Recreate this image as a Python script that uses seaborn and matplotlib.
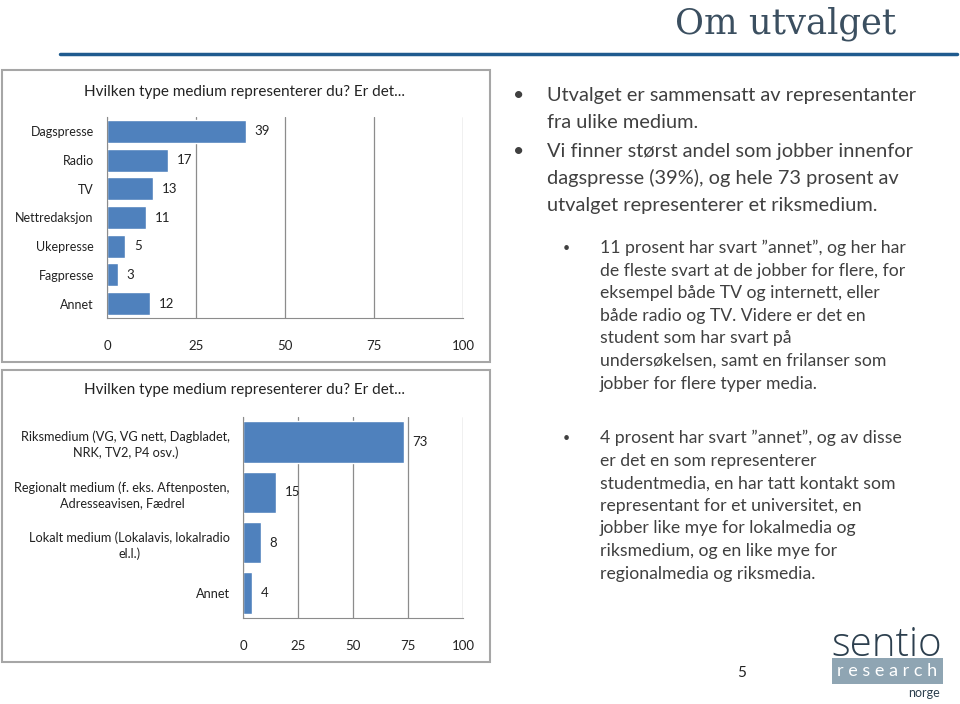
import matplotlib
matplotlib.use('Agg')
import matplotlib.pyplot as plt
from matplotlib.patches import Rectangle
import numpy as np
import seaborn as sns

# data for the two bar charts
medium_types = ['Dagspresse', 'Radio', 'TV', 'Nettredaksjon', 'Ukepresse', 'Fagpresse', 'Annet']
medium_values = [39, 17, 13, 11, 5, 3, 12]

reach_types = ['Riksmedium (VG, VG nett, Dagbladet,\nNRK, TV2, P4 osv.)',
               'Regionalt medium (f. eks. Aftenposten,\nAdresseavisen, Fædrel',
               'Lokalt medium (Lokalavis, lokalradio\nel.l.)',
               'Annet']
reach_values = [73, 15, 8, 4]

x_ticks = [0, 25, 50, 75, 100]
chart_title = 'Hvilken type medium representerer du? Er det...'

bullets_main = [
    ['Utvalget er sammensatt av representanter', 'fra ulike medium.'],
    ['Vi finner størst andel som jobber innenfor', 'dagspresse (39%), og hele 73 prosent av',
     'utvalget representerer et riksmedium.'],
]
bullets_sub = [
    ['11 prosent har svart \u201dannet\u201d, og her har', 'de fleste svart at de jobber for flere, for',
     'eksempel både TV og internett, eller', 'både radio og TV. Videre er det en',
     'student som har svart på', 'undersøkelsen, samt en frilanser som', 'jobber for flere typer media.'],
    ['4 prosent har svart \u201dannet\u201d, og av disse', 'er det en som representerer',
     'studentmedia, en har tatt kontakt som', 'representant for et universitet, en',
     'jobber like mye for lokalmedia og', 'riksmedium, og en like mye for', 'regionalmedia og riksmedia.'],
]

sns.set_style('white')
plt.rcParams['font.family'] = ['Lato', 'DejaVu Sans']

W, H = 960, 704
BAR = '#4f81bd'
GRID = '#8c8c8c'
TEXT = '#404040'

fig = plt.figure(figsize=(9.6, 7.04), dpi=100)


def px(x, y):
    return x / W, 1 - y / H


def box(x0, y0, x1, y1):
    fig.patches.append(Rectangle(px(x0, y1), (x1 - x0) / W, (y1 - y0) / H, transform=fig.transFigure,
                                 fill=False, edgecolor='#a6a6a6', lw=1.5))


def bar_chart(rect, cats, vals, width, label_size):
    l, t, r, b = rect
    ax = fig.add_axes([l / W, 1 - b / H, (r - l) / W, (b - t) / H])
    sns.barplot(x=vals, y=cats, orient='h', color=BAR, width=width, saturation=1, ax=ax)
    ax.bar_label(ax.containers[0], padding=6.5, fontsize=9.5, color='#222222')
    ax.set_xlim(0, 100)
    ax.set_ylim(len(cats) - 0.5, -0.5)
    ax.set_xticks(x_ticks)
    ax.set_yticks(range(len(cats)), labels=cats, multialignment='center', linespacing=1.35)
    ax.set_xlabel('')
    ax.set_ylabel('')
    ax.xaxis.grid(True, color=GRID, lw=0.9)
    ax.set_axisbelow(True)
    for s in ['top', 'right']:
        ax.spines[s].set_visible(False)
    for s in ['left', 'bottom']:
        ax.spines[s].set_color(GRID)
    ax.set_yticks(np.arange(len(cats) + 1) - 0.5, minor=True)
    ax.tick_params(axis='y', which='major', length=0, pad=9.5, labelsize=label_size, labelcolor='#222222')
    ax.tick_params(axis='y', which='minor', length=4, color=GRID, direction='out')
    ax.tick_params(axis='x', length=4, color=GRID, pad=12, labelsize=9.5, labelcolor='#222222')
    return ax


# header
fig.text(*px(786, 24), 'Om utvalget', family='DejaVu Serif', fontsize=25.5, color='#3b4f60',
         ha='center', va='center')
fig.add_artist(plt.Line2D([60 / W, 957 / W], [1 - 54 / H] * 2, transform=fig.transFigure,
                          color='#1f5b8f', lw=2.5))

# chart panels
box(2, 70, 490, 362)
box(2, 370, 490, 662)
fig.text(*px(245, 92), chart_title, fontsize=11, color='#222222', ha='center', va='center')
fig.text(*px(245, 390), chart_title, fontsize=11, color='#222222', ha='center', va='center')
bar_chart((107, 117, 463, 318), medium_types, medium_values, 0.8, 9)
bar_chart((243, 417, 463, 618), reach_types, reach_values, 0.83, 9.2)

# bullet text
main_y = [[95, 123], [152, 178, 205]]
for lines, ys in zip(bullets_main, main_y):
    fig.text(*px(513, ys[0]), '\u2022', fontsize=14, color=TEXT, ha='left', va='center')
    for line, y in zip(lines, ys):
        fig.text(*px(547, y), line, fontsize=14.4, color=TEXT, ha='left', va='center')

sub_start = [248, 438]
for lines, y0 in zip(bullets_sub, sub_start):
    fig.text(*px(563, y0), '\u2022', fontsize=9, color=TEXT, ha='left', va='center')
    for i, line in enumerate(lines):
        fig.text(*px(600, y0 + i * 22.6), line, fontsize=12.7, color=TEXT, ha='left', va='center')

# page number and logo
fig.text(*px(742, 673), '5', fontsize=11, color='#222222', ha='center', va='center')
fig.patches.append(Rectangle(px(832, 684), 111 / W, 26 / H, transform=fig.transFigure,
                             facecolor='#8fa5b3', edgecolor='none'))
fig.text(*px(887, 656), 'sentio', family='Open Sans', fontweight='light', fontsize=29,
         color='#2c3f4e', ha='center', va='baseline')
fig.text(*px(887, 671), 'r e s e a r c h', fontsize=13, color='white', ha='center', va='center')
fig.text(*px(924, 693), 'norge', fontsize=9, color='#2c3f4e', ha='center', va='center')

fig.savefig('out.png', dpi=100, facecolor='white')
